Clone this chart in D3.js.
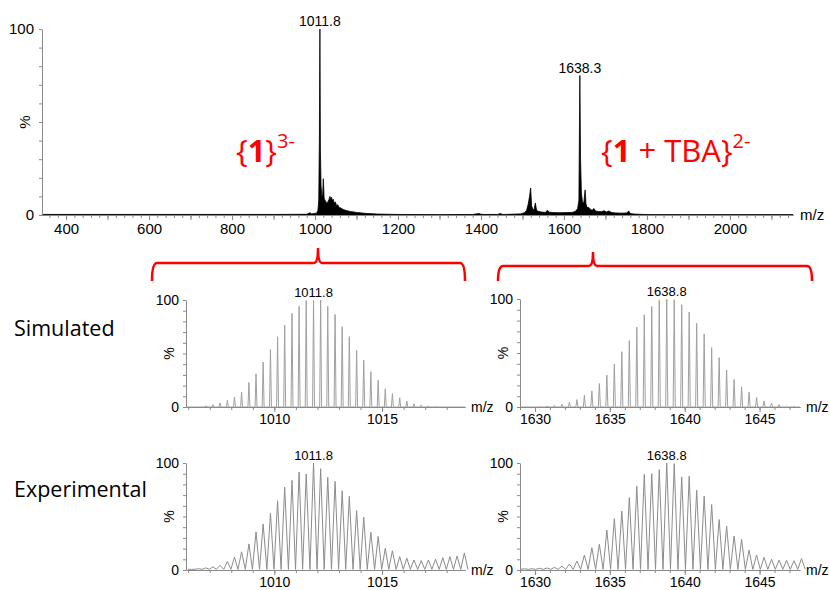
<!DOCTYPE html>
<html>
<head>
<meta charset="utf-8">
<script src="https://cdn.jsdelivr.net/npm/d3@7"></script>
<style>
  body { margin: 0; background: #fff; }
  svg { display: block; font-family: "Liberation Sans", Arial, sans-serif; }
  .axis path, .axis line { stroke: #8a8a8a; }
  .axis text { fill: #000; font-family: "Liberation Sans", Arial, sans-serif; }
</style>
</head>
<body>
<script>
// ---- data ----

// full spectrum, m/z vs %
var topMz = [342, 900, 980, 988, 992, 998, 1004, 1007, 1009, 1010.5, 1011.8, 1013, 1014.5, 1016, 1018, 1020, 1022, 1025, 1028,
  1031, 1034, 1036, 1038, 1040, 1042, 1044, 1046, 1049, 1052, 1055, 1058, 1062, 1068, 1075, 1085, 1100, 1120, 1150, 1200,
  1300, 1380, 1395, 1400, 1405, 1440, 1447, 1452, 1460, 1495, 1505, 1510, 1514, 1517, 1519.7, 1522, 1525, 1528, 1531, 1534,
  1538, 1545, 1555, 1560, 1565, 1575, 1590, 1605, 1620, 1628, 1633, 1636, 1638.3, 1640, 1642, 1645, 1648, 1651, 1653, 1656,
  1660, 1664, 1668, 1672, 1676, 1682, 1690, 1697, 1702, 1708, 1715, 1725, 1740, 1752, 1756, 1759, 1763, 1770, 1790, 1810,
  1850, 2152];
var topInt = [0.3, 0.3, 0.4, 1.2, 0.6, 0.8, 1.0, 2.5, 8, 40, 100, 35, 16, 11, 9, 19.5, 9, 7.5, 6.5,
  7, 8.5, 10, 8, 9.5, 7.5, 8.5, 6.5, 7, 5, 5.5, 4, 3.8, 3, 2.4, 1.9, 1.4, 0.9, 0.5, 0.3,
  0.2, 0.3, 0.8, 0.4, 0.3, 0.3, 0.8, 0.3, 0.3, 0.6, 1.2, 2.5, 6, 10, 14.5, 5, 3, 3, 6.5, 2.5,
  2, 1.6, 1.4, 2.5, 1.5, 1.3, 1.2, 1.3, 1.4, 2, 3.5, 8, 75, 30, 12, 6, 7, 13.5, 6, 4,
  4, 3, 2.5, 3.5, 2.2, 1.9, 1.8, 2.3, 1.6, 2.2, 1.3, 1.1, 1, 1.1, 2.2, 0.9, 0.7, 0.5, 0.3, 0.2,
  0.2, 0.2];
var topTicks = [400, 600, 800, 1000, 1200, 1400, 1600, 1800, 2000];
var topLabels = [1011.8, 1638.3];
var topLabelInt = [100, 75];

// {1}3- isotope pattern (z = 3)
var simLeftMz = [1006.48, 1006.82, 1007.15, 1007.48, 1007.82, 1008.15, 1008.48, 1008.82, 1009.15, 1009.48, 1009.82,
  1010.15, 1010.48, 1010.82, 1011.15, 1011.48, 1011.82, 1012.15, 1012.48, 1012.82, 1013.15, 1013.48, 1013.82, 1014.15,
  1014.48, 1014.82, 1015.15, 1015.48, 1015.82, 1016.15, 1016.48, 1016.82, 1017.15, 1017.48];
var simLeftInt = [0.5, 1.2, 2.2, 3.7, 6.2, 9.4, 14, 23, 31, 42, 53.7, 65.6, 76.5, 87.5, 94, 99.4,
  100, 100, 94, 86.5, 75, 65.6, 53, 43.7, 33, 25, 17, 12.5, 8.7, 5.6, 3, 1.9, 1, 0.6];
var expLeftMz = [1006.15, 1006.48, 1006.82, 1007.15, 1007.48, 1007.82, 1008.15, 1008.48, 1008.82, 1009.15, 1009.48,
  1009.82, 1010.15, 1010.48, 1010.82, 1011.15, 1011.48, 1011.82, 1012.15, 1012.48, 1012.82, 1013.15, 1013.48, 1013.82,
  1014.15, 1014.48, 1014.82, 1015.15, 1015.48, 1015.82, 1016.15, 1016.48, 1016.82, 1017.15, 1017.48, 1017.82, 1018.15,
  1018.48, 1018.82];
var expLeftInt = [0.6, 1.2, 2, 3, 4.4, 8, 12, 17, 24.4, 35.6, 43, 53, 64.7, 77.5, 83.7, 91.6, 89.7,
  100, 94.7, 86.6, 82.8, 74, 68.8, 55.6, 49.4, 35.3, 31.3, 20.3, 18, 12.5, 11, 9.4, 8.8, 9.4, 10, 11.6, 12.5, 13, 16];
var leftTicks = [1010, 1015];

// {1 + TBA}2- isotope pattern (z = 2)
var simRightMz = [1630.3, 1630.8, 1631.3, 1631.8, 1632.3, 1632.8, 1633.3, 1633.8, 1634.3, 1634.8, 1635.3, 1635.8,
  1636.3, 1636.8, 1637.3, 1637.8, 1638.3, 1638.8, 1639.3, 1639.8, 1640.3, 1640.8, 1641.3, 1641.8, 1642.3, 1642.8,
  1643.3, 1643.8, 1644.3, 1644.8, 1645.3, 1645.8, 1646.3, 1646.8, 1647.3];
var simRightInt = [0.6, 0.9, 1.6, 2.5, 4.3, 6.8, 10.9, 14.9, 21.7, 29.5, 39.8, 51.2, 61.5, 73.9, 85.4, 93, 98.8,
  100, 99.4, 94.7, 87.9, 77.6, 67.7, 55, 45.7, 34.2, 25.5, 18.6, 13.7, 8.7, 5.6, 3.7, 2.2, 0.9, 0.4];
var expRightMz = [1629.3, 1629.8, 1630.3, 1630.8, 1631.3, 1631.8, 1632.3, 1632.8, 1633.3, 1633.8, 1634.3, 1634.8,
  1635.3, 1635.8, 1636.3, 1636.8, 1637.3, 1637.8, 1638.3, 1638.8, 1639.3, 1639.8, 1640.3, 1640.8, 1641.3, 1641.8,
  1642.3, 1642.8, 1643.3, 1643.8, 1644.3, 1644.8, 1645.3, 1645.8, 1646.3, 1646.8, 1647.3, 1647.8];
var expRightInt = [1.2, 1.2, 1.6, 1.9, 2.5, 3.7, 5.6, 8.4, 14, 20.8, 24, 37.3, 48, 55, 67.7, 78.3, 89.4, 90, 93.8,
  100, 99.4, 87, 87.6, 74.5, 69, 61.2, 47.2, 41, 31.7, 28.6, 18.6, 14, 11.8, 10, 9.3, 9, 8.7, 10.6];
var rightTicks = [1630, 1635, 1640, 1645];

// ---- svg ----
var svg = d3.select("body").append("svg")
    .attr("width", 830)
    .attr("height", 590);

svg.append("rect").attr("width", 830).attr("height", 590).attr("fill", "#fff");

// ---- top spectrum ----
var xTop = d3.scaleLinear().domain([342, 2152]).range([42, 793]);
var yTop = d3.scaleLinear().domain([0, 100]).range([215, 29]);

var topData = topMz.map((m, i) => [m, topInt[i]]);

svg.append("path")
    .datum(topData)
    .attr("fill", "#000")
    .attr("stroke", "#000")
    .attr("stroke-width", 0.8)
    .attr("d", d3.area().x(d => xTop(d[0])).y0(yTop(0)).y1(d => yTop(d[1])));

// minor ticks every 20, major every 100, labels every 200
svg.append("g").attr("class", "axis")
    .attr("transform", "translate(0,215)")
    .call(d3.axisBottom(xTop).tickValues(d3.range(360, 2152, 20)).tickSize(3).tickSizeOuter(0).tickFormat(""));
svg.append("g").attr("class", "axis")
    .attr("transform", "translate(0,215)")
    .call(d3.axisBottom(xTop).tickValues(d3.range(400, 2152, 100)).tickSize(5).tickSizeOuter(0).tickPadding(3)
      .tickFormat(d => topTicks.includes(d) ? d : ""))
    .selectAll("text").style("font-size", "15px");

svg.append("g").attr("class", "axis")
    .attr("transform", "translate(42,0)")
    .call(d3.axisLeft(yTop).tickValues(d3.range(0, 101, 10)).tickSize(3).tickSizeOuter(0).tickPadding(5)
      .tickFormat(d => (d === 0 || d === 100) ? d : ""))
    .selectAll("text").style("font-size", "15px");

svg.append("text")
    .attr("transform", "translate(30,122) rotate(-90)")
    .attr("text-anchor", "middle")
    .style("font-size", "15px")
    .text("%");

svg.append("text")
    .attr("x", 800).attr("y", 220)
    .style("font-size", "15px")
    .text("m/z");

svg.selectAll(".toplabel")
    .data(topLabels)
    .enter()
    .append("text")
    .attr("x", d => xTop(d))
    .attr("y", (d, i) => yTop(topLabelInt[i]) - 3)
    .attr("text-anchor", "middle")
    .style("font-size", "14px")
    .text(d => d.toFixed(1));

// red annotations
var red = "#ff0000";
var redFont = "'Open Sans', 'Noto Sans', sans-serif";

var lab1 = svg.append("text")
    .attr("x", 236).attr("y", 162)
    .attr("fill", red)
    .style("font-family", redFont)
    .style("font-size", "31px");
lab1.append("tspan").text("{");
lab1.append("tspan").style("font-weight", "bold").text("1");
lab1.append("tspan").text("}");
lab1.append("tspan").attr("dy", -14).style("font-size", "20px").text("3-");

var lab2 = svg.append("text")
    .attr("x", 601).attr("y", 162)
    .attr("fill", red)
    .style("font-family", redFont)
    .style("font-size", "31px");
lab2.append("tspan").text("{");
lab2.append("tspan").style("font-weight", "bold").text("1");
lab2.append("tspan").text(" + TBA}");
lab2.append("tspan").attr("dy", -14).style("font-size", "20px").text("2-");

// brackets linking the peaks to the zoomed panels
function bracket(x0, x1, xm, yh, ytip, ybot) {
  return "M" + x0 + "," + ybot +
    " Q" + x0 + "," + yh + " " + (x0 + 5) + "," + yh +
    " L" + (xm - 4) + "," + yh +
    " Q" + xm + "," + yh + " " + xm + "," + ytip +
    " Q" + xm + "," + yh + " " + (xm + 4) + "," + yh +
    " L" + (x1 - 5) + "," + yh +
    " Q" + x1 + "," + yh + " " + x1 + "," + ybot;
}
svg.append("path")
    .attr("d", bracket(152, 465, 318, 263, 248, 281))
    .attr("fill", "none").attr("stroke", red).attr("stroke-width", 2.5);
svg.append("path")
    .attr("d", bracket(498, 812, 593, 266, 252, 281))
    .attr("fill", "none").attr("stroke", red).attr("stroke-width", 2.5);

// row titles
svg.append("text").attr("x", 14).attr("y", 336)
    .style("font-family", redFont).style("font-size", "21.5px").text("Simulated");
svg.append("text").attr("x", 14).attr("y", 497)
    .style("font-family", redFont).style("font-size", "21.5px").text("Experimental");

// ---- zoomed panels ----
function drawPanel(cfg) {
  var x = d3.scaleLinear().domain(cfg.domain).range(cfg.xr);
  var y = d3.scaleLinear().domain([0, 100]).range(cfg.yr);
  var g = svg.append("g");
  var y0 = cfg.yr[0];

  var pts = [];
  if (cfg.sim) {
    // thin centroid-like spikes
    pts.push([cfg.domain[0], 0]);
    cfg.mz.forEach((m, i) => {
      pts.push([m - cfg.hw, 0], [m, cfg.int[i]], [m + cfg.hw, 0]);
    });
    pts.push([cfg.domain[1], 0]);
  } else {
    // profile trace, valleys half way between isotopes
    cfg.mz.forEach((m, i) => {
      pts.push([m - cfg.hw, cfg.base], [m, cfg.int[i]]);
    });
    pts.push([cfg.mz[cfg.mz.length - 1] + cfg.hw, cfg.base]);
  }

  g.append("path")
      .datum(pts)
      .attr("fill", "none")
      .attr("stroke", cfg.color)
      .attr("stroke-width", 1)
      .attr("d", d3.line().x(d => x(d[0])).y(d => y(d[1])));

  var minor = d3.range(Math.ceil(cfg.domain[0]), cfg.domain[1], 1);
  g.append("g").attr("class", "axis")
      .attr("transform", "translate(0," + y0 + ")")
      .call(d3.axisBottom(x).tickValues(minor).tickSize(3).tickSizeOuter(0).tickFormat(""));
  g.append("g").attr("class", "axis")
      .attr("transform", "translate(0," + y0 + ")")
      .call(d3.axisBottom(x).tickValues(cfg.ticks).tickSize(5).tickSizeOuter(0).tickPadding(2)
        .tickFormat(d3.format("d")))
      .selectAll("text").style("font-size", "14px");

  g.append("g").attr("class", "axis")
      .attr("transform", "translate(" + cfg.xr[0] + ",0)")
      .call(d3.axisLeft(y).tickValues(d3.range(0, 101, 10)).tickSize(3).tickSizeOuter(0).tickPadding(4)
        .tickFormat(d => (d === 0 || d === 100) ? d : ""))
      .selectAll("text").style("font-size", "14px");

  g.append("text")
      .attr("transform", "translate(" + (cfg.xr[0] - 12) + "," + y(50) + ") rotate(-90)")
      .attr("text-anchor", "middle")
      .style("font-size", "14px")
      .text("%");

  g.append("text")
      .attr("x", cfg.xr[1] + 6).attr("y", y0 + 5)
      .style("font-size", "14px")
      .text("m/z");

  var top = d3.maxIndex(cfg.int);
  g.append("text")
      .attr("x", x(cfg.mz[top]))
      .attr("y", y(100) - 3)
      .attr("text-anchor", "middle")
      .style("font-size", "13px")
      .text(cfg.label);
}

drawPanel({ mz: simLeftMz, int: simLeftInt, domain: [1005.9, 1018.85], xr: [186, 465], yr: [407, 300],
  ticks: leftTicks, sim: true, hw: 0.045, color: "#a0a0a0", label: "1011.8" });
drawPanel({ mz: expLeftMz, int: expLeftInt, domain: [1005.9, 1018.85], xr: [186, 465], yr: [570, 463],
  ticks: leftTicks, sim: false, hw: 0.1667, base: 0.6, color: "#8c8c8c", label: "1011.8" });
drawPanel({ mz: simRightMz, int: simRightInt, domain: [1629.0, 1647.7], xr: [520, 800], yr: [407, 299],
  ticks: rightTicks, sim: true, hw: 0.07, color: "#a0a0a0", label: "1638.8" });
drawPanel({ mz: expRightMz, int: expRightInt, domain: [1629.0, 1647.7], xr: [520, 800], yr: [570, 463],
  ticks: rightTicks, sim: false, hw: 0.25, base: 0.6, color: "#8c8c8c", label: "1638.8" });
</script>
</body>
</html>
